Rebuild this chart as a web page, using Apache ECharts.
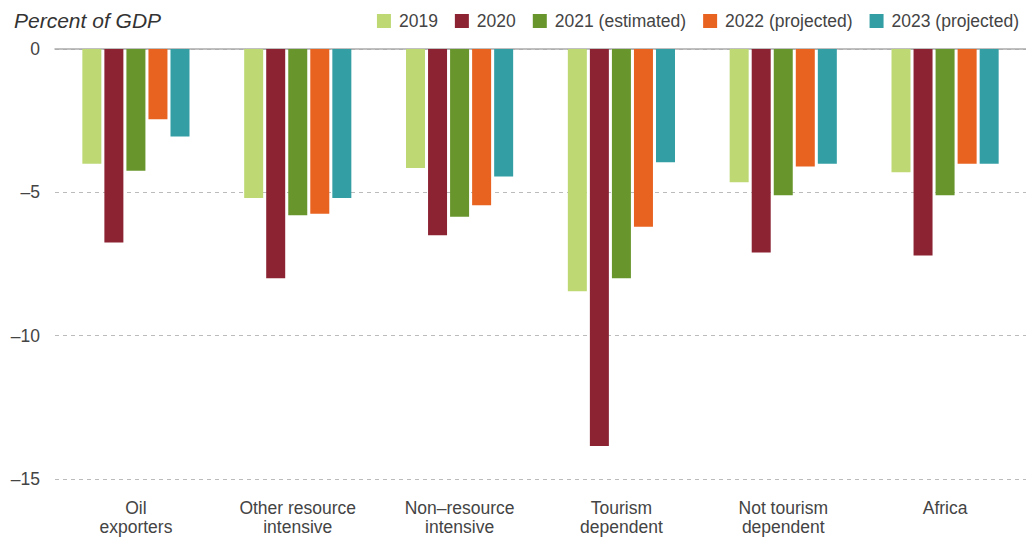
<!DOCTYPE html>
<html>
<head>
<meta charset="utf-8">
<script src="https://cdn.jsdelivr.net/npm/echarts@6/dist/echarts.min.js"></script>
<style>
	html, body { margin: 0; padding: 0; background: #fff; }
	#chart { width: 1026px; height: 539px; }
</style>
</head>
<body>
<div id="chart"></div>
<script>
// Daten
var categories = ['Oil\nexporters', 'Other resource\nintensive', 'Non\u2013resource\nintensive', 'Tourism\ndependent', 'Not tourism\ndependent', 'Africa'];
var seriesNames = ['2019', '2020', '2021 (estimated)', '2022 (projected)', '2023 (projected)'];
var values2019 = [-4.0, -5.2, -4.15, -8.45, -4.65, -4.3];
var values2020 = [-6.75, -8.0, -6.5, -13.85, -7.1, -7.2];
var values2021 = [-4.25, -5.8, -5.85, -8.0, -5.1, -5.1];
var values2022 = [-2.45, -5.75, -5.45, -6.2, -4.1, -4.0];
var values2023 = [-3.05, -5.2, -4.45, -3.95, -4.0, -4.0];
var yTicks = [0, -5, -10, -15];

var colors = ['#BED974', '#8B2333', '#68962C', '#E86220', '#339FA5'];
var allValues = [values2019, values2020, values2021, values2022, values2023];
var font = 'Liberation Sans';

var chart = echarts.init(document.getElementById('chart'), null, {renderer: 'svg'});

chart.setOption({
	animation: false,
	color: colors,
	textStyle: { fontFamily: font },
	title: {
		text: 'Percent of GDP',
		left: 9,
		top: 5,
		textStyle: { fontSize: 21, fontStyle: 'italic', fontWeight: 'normal', color: '#333', fontFamily: font }
	},
	legend: {
		right: 2,
		top: 7,
		itemWidth: 14,
		itemHeight: 14,
		itemGap: 17,
		icon: 'rect',
		textStyle: { fontSize: 17.5, color: '#444', padding: [0, 0, 0, 3] },
		data: seriesNames
	},
	grid: { left: 55, right: 0, top: 49, bottom: 60 },
	xAxis: [
		{
			// obere Achse = Nulllinie
			type: 'category',
			data: categories,
			position: 'top',
			axisLine: { show: true, lineStyle: { color: '#aaa', width: 1.5 } },
			axisTick: { show: false },
			axisLabel: { show: false }
		},
		{
			type: 'category',
			data: categories,
			position: 'bottom',
			axisLine: { show: false },
			axisTick: { show: false },
			axisLabel: { fontSize: 17.5, color: '#444', lineHeight: 19, margin: 19 }
		}
	],
	yAxis: {
		type: 'value',
		min: -15,
		max: 0,
		interval: 5,
		axisLine: { show: false },
		axisTick: { show: false },
		axisLabel: {
			fontSize: 17.5,
			color: '#444',
			margin: 15,
			formatter: function (v) { return String(v).replace('-', '\u2013'); }
		},
		splitLine: { lineStyle: { color: '#bbb', type: [4, 4], width: 1 } }
	},
	series: seriesNames.map(function (name, i) {
		return {
			name: name,
			type: 'bar',
			xAxisIndex: 0,
			barWidth: 19,
			barGap: '16%',
			data: allValues[i]
		};
	})
});
</script>
</body>
</html>
